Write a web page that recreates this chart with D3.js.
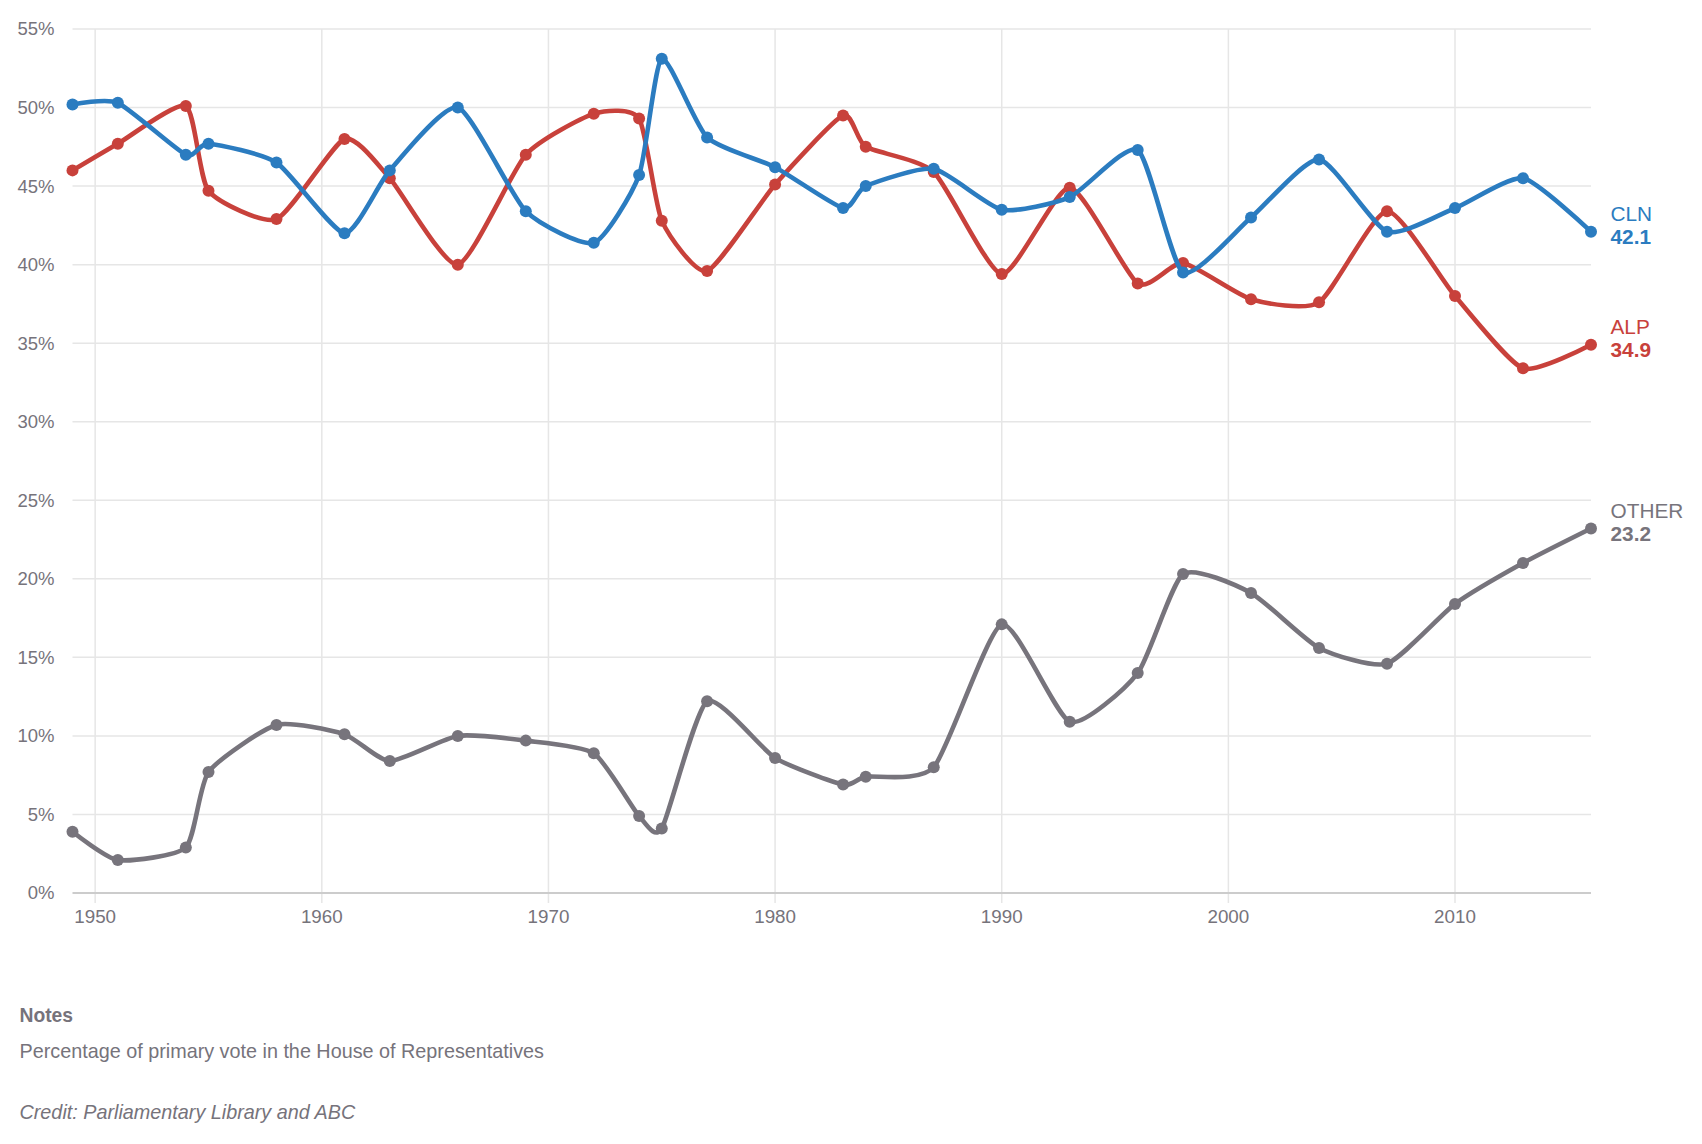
<!DOCTYPE html>
<html>
<head>
<meta charset="utf-8">
<script src="https://cdn.jsdelivr.net/npm/d3@7"></script>
<style>
  html, body { margin: 0; padding: 0; background: #fff; }
  svg { display: block; }
  text { font-family: Arial, "Liberation Sans", Helvetica, sans-serif; }
</style>
</head>
<body>
<svg id="chart" width="1702" height="1144"></svg>
<script>
// ---- Data ----
const years = [1949, 1951, 1954, 1955, 1958, 1961, 1963, 1966, 1969, 1972, 1974, 1975, 1977, 1980, 1983, 1984, 1987, 1990, 1993, 1996, 1998, 2001, 2004, 2007, 2010, 2013, 2016];
const clnValues = [50.2, 50.3, 47.0, 47.7, 46.5, 42.0, 46.0, 50.0, 43.4, 41.4, 45.7, 53.1, 48.1, 46.2, 43.6, 45.0, 46.1, 43.5, 44.3, 47.3, 39.5, 43.0, 46.7, 42.1, 43.6, 45.5, 42.1];
const alpValues = [46.0, 47.7, 50.1, 44.7, 42.9, 48.0, 45.5, 40.0, 47.0, 49.6, 49.3, 42.8, 39.6, 45.1, 49.5, 47.5, 45.9, 39.4, 44.9, 38.8, 40.1, 37.8, 37.6, 43.4, 38.0, 33.4, 34.9];
const otherValues = [3.9, 2.1, 2.9, 7.7, 10.7, 10.1, 8.4, 10.0, 9.7, 8.9, 4.9, 4.1, 12.2, 8.6, 6.9, 7.4, 8.0, 17.1, 10.9, 14.0, 20.3, 19.1, 15.6, 14.6, 18.4, 21.0, 23.2];
const seriesNames = ["OTHER", "ALP", "CLN"];
const seriesColors = ["#77747c", "#c8413b", "#2b7cc0"];
const yTicks = [0, 5, 10, 15, 20, 25, 30, 35, 40, 45, 50, 55];
const xTicks = [1950, 1960, 1970, 1980, 1990, 2000, 2010];
const notesTitle = "Notes";
const notesText = "Percentage of primary vote in the House of Representatives";
const creditText = "Credit: Parliamentary Library and ABC";

const seriesValues = [otherValues, alpValues, clnValues];

// ---- Layout ----
const svg = d3.select("#chart");
const textColor = "#76737b";
const x = d3.scaleLinear().domain([1949, 2016]).range([72.5, 1591]);
const y = d3.scaleLinear().domain([0, 55]).range([893, 29]);

// Horizontal gridlines
svg.append("g")
  .selectAll("line")
  .data(yTicks.filter(d => d !== 0))
  .join("line")
  .attr("x1", x.range()[0]).attr("x2", x.range()[1])
  .attr("y1", d => y(d)).attr("y2", d => y(d))
  .attr("stroke", "#e6e6e6").attr("stroke-width", 1.5);

// Vertical gridlines
svg.append("g")
  .selectAll("line")
  .data(xTicks)
  .join("line")
  .attr("x1", d => x(d)).attr("x2", d => x(d))
  .attr("y1", y(55)).attr("y2", y(0) + 10)
  .attr("stroke", "#e6e6e6").attr("stroke-width", 1.5);

// Zero axis line
svg.append("line")
  .attr("x1", x.range()[0]).attr("x2", x.range()[1])
  .attr("y1", y(0)).attr("y2", y(0))
  .attr("stroke", "#cccccc").attr("stroke-width", 2);

// Y labels
svg.append("g")
  .selectAll("text")
  .data(yTicks)
  .join("text")
  .attr("x", 54.5)
  .attr("y", d => y(d))
  .attr("dy", "0.35em")
  .attr("text-anchor", "end")
  .attr("font-size", 18.5)
  .attr("fill", textColor)
  .text(d => d + "%");

// X labels
svg.append("g")
  .selectAll("text")
  .data(xTicks)
  .join("text")
  .attr("x", d => x(d))
  .attr("y", 923)
  .attr("text-anchor", "middle")
  .attr("font-size", 18.8)
  .attr("fill", textColor)
  .text(d => d);

// Lines
const line = d3.line()
  .x(d => x(d.year))
  .y(d => y(d.value))
  .curve(d3.curveCardinal.tension(0.4));

seriesNames.forEach((name, i) => {
  const data = years.map((yr, j) => ({ year: yr, value: seriesValues[i][j] }));
  const g = svg.append("g").attr("class", "series-" + name);
  g.append("path")
    .datum(data)
    .attr("d", line)
    .attr("fill", "none")
    .attr("stroke", seriesColors[i])
    .attr("stroke-width", 4.6)
    .attr("stroke-linejoin", "round")
    .attr("stroke-linecap", "round");
  g.selectAll("circle")
    .data(data)
    .join("circle")
    .attr("cx", d => x(d.year))
    .attr("cy", d => y(d.value))
    .attr("r", 6)
    .attr("fill", seriesColors[i]);

  const last = data[data.length - 1];
  const lx = x(2016) + 19.5;
  const ly = y(last.value);
  g.append("text")
    .attr("x", lx).attr("y", ly - 10.5)
    .attr("font-size", 20.8)
    .attr("fill", seriesColors[i])
    .text(name);
  g.append("text")
    .attr("x", lx).attr("y", ly + 12.5)
    .attr("font-size", 20.8)
    .attr("font-weight", "bold")
    .attr("fill", seriesColors[i])
    .text(last.value.toFixed(1));
});

// Notes
svg.append("text")
  .attr("x", 19.5).attr("y", 1021.5)
  .attr("font-size", 19.3)
  .attr("font-weight", "bold")
  .attr("fill", textColor)
  .text(notesTitle);
svg.append("text")
  .attr("x", 19.5).attr("y", 1057.5)
  .attr("font-size", 19.8)
  .attr("fill", textColor)
  .text(notesText);
svg.append("text")
  .attr("x", 19.5).attr("y", 1119)
  .attr("font-size", 19.8)
  .attr("font-style", "italic")
  .attr("fill", textColor)
  .text(creditText);
</script>
</body>
</html>
